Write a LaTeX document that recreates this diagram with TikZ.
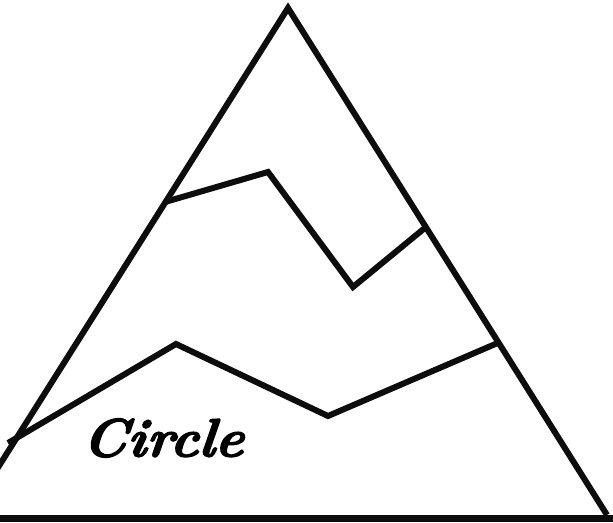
\documentclass[tikz,border=0pt]{standalone}
\usepackage{fontspec}
\newfontfamily\scrfont[FakeBold=2.5,FakeSlant=0.1]{lmroman10-bolditalic.otf}
\begin{document}
\begin{tikzpicture}[x=1pt,y=-1pt,
  edge/.style={line width=6pt,draw=black!95,line join=miter},
  lbl/.style={font=\scrfont\fontsize{54}{58}\selectfont,inner sep=0pt}]
\useasboundingbox (0,0) rectangle (613,522);
\clip (0,0) rectangle (613,522);
\draw[edge] (-32,515) -- (288,8) -- (607,515);
\draw[edge] (165,202) -- (268,172) -- (353,287) -- (426,227);
\draw[edge] (8,443) -- (176,344) -- (328,416) -- (500,342);
\fill[black!95] (0,515) rectangle (613,522);
\node[lbl] (title) at (162,438) {Circle};
\end{tikzpicture}
\end{document}
